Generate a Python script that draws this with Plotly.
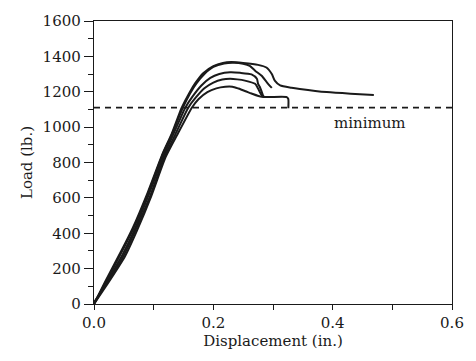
import plotly.graph_objects as go

# Load-displacement curves (x in inches, y in lb)
c1_x = [0.0, 0.02, 0.045, 0.065, 0.09, 0.115, 0.13, 0.147, 0.16, 0.17, 0.183, 0.2, 0.216, 0.23, 0.25, 0.275, 0.289, 0.298, 0.303, 0.312, 0.331, 0.345, 0.39, 0.43, 0.469]
c1_y = [0, 135, 295, 430, 630, 850, 960, 1110, 1195, 1250, 1305, 1345, 1363, 1368, 1363, 1352, 1337, 1300, 1263, 1236, 1223, 1216, 1198, 1189, 1182]

c2_x = [0.0, 0.02, 0.045, 0.065, 0.09, 0.115, 0.13, 0.149, 0.161, 0.172, 0.185, 0.2, 0.218, 0.235, 0.25, 0.261, 0.27, 0.281, 0.29, 0.298]
c2_y = [0, 125, 285, 420, 620, 845, 955, 1110, 1190, 1248, 1300, 1340, 1360, 1364, 1358, 1346, 1319, 1290, 1252, 1222]

c3_x = [0.0, 0.02, 0.048, 0.068, 0.092, 0.117, 0.133, 0.153, 0.165, 0.18, 0.195, 0.21, 0.228, 0.245, 0.264, 0.273, 0.275, 0.278, 0.284]
c3_y = [0, 115, 280, 420, 620, 840, 960, 1110, 1172, 1235, 1278, 1300, 1310, 1307, 1298, 1273, 1245, 1227, 1171]

c4_x = [0.0, 0.02, 0.05, 0.07, 0.094, 0.118, 0.135, 0.158, 0.17, 0.185, 0.2, 0.215, 0.228, 0.24, 0.253, 0.27, 0.275, 0.281, 0.285]
c4_y = [10, 110, 275, 420, 610, 830, 950, 1110, 1165, 1220, 1252, 1269, 1273, 1270, 1263, 1245, 1218, 1181, 1172]

c5_x = [0.0, 0.02, 0.052, 0.072, 0.096, 0.12, 0.14, 0.164, 0.175, 0.19, 0.205, 0.22, 0.232, 0.242, 0.254, 0.264, 0.281, 0.323, 0.3256, 0.3257]
c5_y = [0, 100, 270, 415, 610, 830, 960, 1110, 1158, 1198, 1219, 1228, 1228, 1218, 1203, 1190, 1171, 1170, 1160, 1107]

curves = [(c1_x, c1_y), (c2_x, c2_y), (c3_x, c3_y), (c4_x, c4_y), (c5_x, c5_y)]

minimum_load = 1110
x_range = [0.0, 0.6]
y_range = [0, 1600]
x_ticks = [0.0, 0.2, 0.4, 0.6]
y_ticks = [0, 200, 400, 600, 800, 1000, 1200, 1400, 1600]

FONT = "DejaVu Serif"
INK = "#1a1a1a"

fig = go.Figure()
for xs, ys in curves:
    fig.add_trace(go.Scatter(x=xs, y=ys, mode="lines",
                             line=dict(color=INK, width=2, shape="spline", smoothing=0.6),
                             showlegend=False, hoverinfo="skip"))

fig.add_trace(go.Scatter(x=x_range, y=[minimum_load, minimum_load], mode="lines",
                         line=dict(color=INK, width=1.6, dash="6px,5px"),
                         showlegend=False, hoverinfo="skip"))

fig.add_annotation(x=0.4626, y=1026, text="minimum", showarrow=False,
                   font=dict(family=FONT, size=15, color=INK))

fig.update_layout(
    width=476, height=361,
    margin=dict(l=94, r=24, t=14, b=57),
    paper_bgcolor="white", plot_bgcolor="white",
    font=dict(family=FONT, size=15, color=INK),
    xaxis=dict(range=x_range, tickvals=x_ticks, ticktext=[f"{v:.1f}" for v in x_ticks],
               ticks="outside", ticklen=5, tickwidth=1.2, tickcolor=INK,
               minor=dict(dtick=0.1, tick0=0, ticks="outside", ticklen=5, tickwidth=1.2, tickcolor=INK),
               showline=True, linecolor=INK, linewidth=1.4, mirror=True,
               showgrid=False, zeroline=False,
               title=dict(text="Displacement (in.)", standoff=2,
                          font=dict(family=FONT, size=15, color=INK))),
    yaxis=dict(range=y_range, tickvals=y_ticks,
               ticks="outside", ticklen=9, tickwidth=1.2, tickcolor=INK,
               minor=dict(dtick=100, tick0=0, ticks="outside", ticklen=5, tickwidth=1.2, tickcolor=INK),
               showline=True, linecolor=INK, linewidth=1.4, mirror=True,
               showgrid=False, zeroline=False,
               title=dict(text="Load (lb.)", standoff=6,
                          font=dict(family=FONT, size=15, color=INK))),
)

fig.write_html("out.html")
